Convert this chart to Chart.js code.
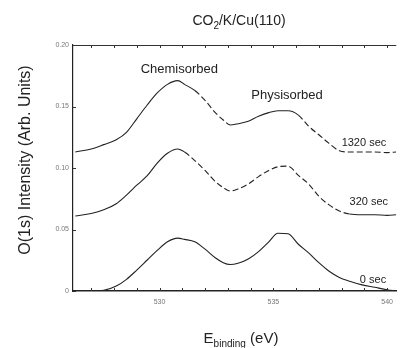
<!DOCTYPE html>
<html>
<head>
<meta charset="utf-8">
<script src="https://cdn.jsdelivr.net/npm/chart.js@4.4.1/dist/chart.umd.min.js"></script>
<style>
  html, body { margin: 0; padding: 0; background: #fff; }
  #wrap { width: 400px; height: 348px; }
</style>
</head>
<body>
<div id="wrap"><canvas id="chart"></canvas></div>
<script>
// ===== Data =====
const energies = [526.3, 527.0, 527.55, 528.1, 528.55, 529.0, 529.45, 529.9, 530.35, 530.8,
                  531.1, 531.55, 532.0, 532.45, 532.8, 533.1, 533.45, 533.9, 534.35, 534.8,
                  535.2, 535.65, 536.1, 536.55, 537.0, 537.45, 537.9, 538.35, 538.9, 539.45,
                  540.0, 540.4];
const sec0    = [0, 0, 0.0005, 0.004, 0.0095, 0.017, 0.025, 0.033, 0.040, 0.043,
                 0.042, 0.040, 0.034, 0.027, 0.023, 0.0215, 0.0225, 0.026, 0.032, 0.040,
                 0.047, 0.0465, 0.038, 0.031, 0.023, 0.016, 0.011, 0.008, 0.005, 0.003,
                 0.001, 0.0];
const sec320  = [0.061, 0.063, 0.066, 0.071, 0.078, 0.086, 0.0935, 0.104, 0.112, 0.1155,
                 0.113, 0.106, 0.098, 0.089, 0.084, 0.0813, 0.083, 0.087, 0.093, 0.098,
                 0.101, 0.1015, 0.094, 0.087, 0.077, 0.070, 0.065, 0.0626, 0.062, 0.062,
                 0.0615, 0.062];
const sec1320 = [0.113, 0.1155, 0.119, 0.123, 0.129, 0.140, 0.151, 0.161, 0.168, 0.171,
                 0.168, 0.163, 0.155, 0.145, 0.139, 0.135, 0.136, 0.138, 0.142, 0.145,
                 0.1465, 0.1465, 0.143, 0.134, 0.127, 0.120, 0.114, 0.113, 0.113, 0.113,
                 0.1125, 0.113];
const seriesNames = ['0 sec', '320 sec', '1320 sec'];
const peakNames = ['Chemisorbed', 'Physisorbed'];
const xTickLabels = [530, 535, 540];
const yTickValues = [0, 0.05, 0.10, 0.15, 0.20];

const FONT = '"Liberation Sans", Arial, Helvetica, sans-serif';
const LINE = '#222';

const pts = arr => arr.map((v, i) => ({ x: energies[i], y: v }));
const dashIf = test => ({ borderDash: ctx => test(ctx.p0.parsed.x) ? [6, 3] : undefined });

// frame, inward ticks, titles and text labels
const decor = {
  id: 'decor',
  afterDraw(chart) {
    const { ctx, chartArea: a, scales: { x, y } } = chart;
    ctx.save();
    ctx.strokeStyle = '#333';
    ctx.lineWidth = 1;
    ctx.beginPath();
    ctx.moveTo(a.left, a.top + 0.5); ctx.lineTo(a.right, a.top + 0.5);
    x.ticks.forEach(t => {
      const px = Math.round(x.getPixelForValue(t.value)) + 0.5;
      ctx.moveTo(px, a.bottom); ctx.lineTo(px, a.bottom - 3);
      ctx.moveTo(px, a.top); ctx.lineTo(px, a.top + 3);
    });
    y.ticks.forEach(t => {
      const py = Math.round(y.getPixelForValue(t.value)) + 0.5;
      ctx.moveTo(a.left, py); ctx.lineTo(a.left + 3, py);
    });
    ctx.stroke();

    ctx.fillStyle = '#222';
    ctx.textBaseline = 'alphabetic';

    // title with subscript
    const big = '14px ' + FONT, sub = '10px ' + FONT;
    ctx.font = big; const w1 = ctx.measureText('CO').width, w3 = ctx.measureText('/K/Cu(110)').width;
    ctx.font = sub; const w2 = ctx.measureText('2').width;
    let tx = 239 - (w1 + w2 + w3) / 2;
    ctx.font = big; ctx.fillText('CO', tx, 25); tx += w1;
    ctx.font = sub; ctx.fillText('2', tx, 29); tx += w2;
    ctx.font = big; ctx.fillText('/K/Cu(110)', tx, 25);

    // x title  E_binding (eV)
    const b = '15px ' + FONT, s = '10px ' + FONT;
    ctx.font = b; const e1 = ctx.measureText('E').width, e3 = ctx.measureText(' (eV)').width;
    ctx.font = s; const e2 = ctx.measureText('binding').width;
    let ex = 241 - (e1 + e2 + e3) / 2;
    ctx.font = b; ctx.fillText('E', ex, 343); ex += e1;
    ctx.font = s; ctx.fillText('binding', ex, 347); ex += e2;
    ctx.font = b; ctx.fillText(' (eV)', ex, 343);

    // y title
    ctx.save();
    ctx.translate(30, 160);
    ctx.rotate(-Math.PI / 2);
    ctx.textAlign = 'center';
    ctx.font = '16px ' + FONT;
    ctx.fillText('O(1s) Intensity (Arb. Units)', 0, 0);
    ctx.restore();

    // peak labels
    ctx.textAlign = 'center';
    ctx.textBaseline = 'middle';
    ctx.font = '13px ' + FONT;
    ctx.fillText(peakNames[0], x.getPixelForValue(530.87), y.getPixelForValue(0.180));
    ctx.fillText(peakNames[1], x.getPixelForValue(535.6), y.getPixelForValue(0.159));

    // series labels
    ctx.textAlign = 'left';
    ctx.font = '11px ' + FONT;
    ctx.fillText(seriesNames[2], x.getPixelForValue(538.0), y.getPixelForValue(0.120));
    ctx.fillText(seriesNames[1], x.getPixelForValue(538.35), y.getPixelForValue(0.072));
    ctx.fillText(seriesNames[0], x.getPixelForValue(538.8), y.getPixelForValue(0.009));
    ctx.restore();
  }
};

new Chart(document.getElementById('chart'), {
  type: 'line',
  data: {
    datasets: [
      { label: seriesNames[0], data: pts(sec0) },
      { label: seriesNames[1], data: pts(sec320),
        segment: dashIf(v => v >= 531.1 && v < 538.3) },
      { label: seriesNames[2], data: pts(sec1320),
        segment: dashIf(v => (v >= 531.55 && v < 533.1) || v >= 536.1) }
    ].map(d => Object.assign({
      borderColor: LINE, borderWidth: 1.1, pointRadius: 0, tension: 0.4,
      cubicInterpolationMode: 'monotone', fill: false
    }, d))
  },
  options: {
    responsive: true,
    maintainAspectRatio: false,
    animation: false,
    layout: { padding: { top: 45, right: 0, left: 0, bottom: 0 } },
    plugins: { legend: { display: false }, tooltip: { enabled: false } },
    scales: {
      x: {
        type: 'linear', min: 526.2, max: 540.4,
        afterBuildTicks: s => { s.ticks = [527, 528, 529, 530, 531, 532, 533, 534, 535, 536, 537, 538, 539, 540].map(v => ({ value: v })); },
        afterFit: s => { s.height = 57; },
        grid: { display: false, drawTicks: false },
        border: { display: true, color: '#222', width: 1.5 },
        ticks: {
          padding: 7, autoSkip: false, maxRotation: 0, color: '#777',
          font: { family: FONT, size: 7 },
          callback: v => xTickLabels.includes(v) ? String(v) : ''
        }
      },
      y: {
        min: 0, max: 0.2,
        afterBuildTicks: s => { s.ticks = yTickValues.map(v => ({ value: v })); },
        afterFit: s => { s.width = 73; },
        grid: { display: false, drawTicks: false },
        border: { display: true, color: '#222', width: 1.2 },
        ticks: {
          padding: 4, color: '#777',
          font: { family: FONT, size: 7 },
          callback: v => v === 0 ? '0' : v.toFixed(2)
        }
      }
    }
  },
  plugins: [decor]
});
</script>
</body>
</html>
